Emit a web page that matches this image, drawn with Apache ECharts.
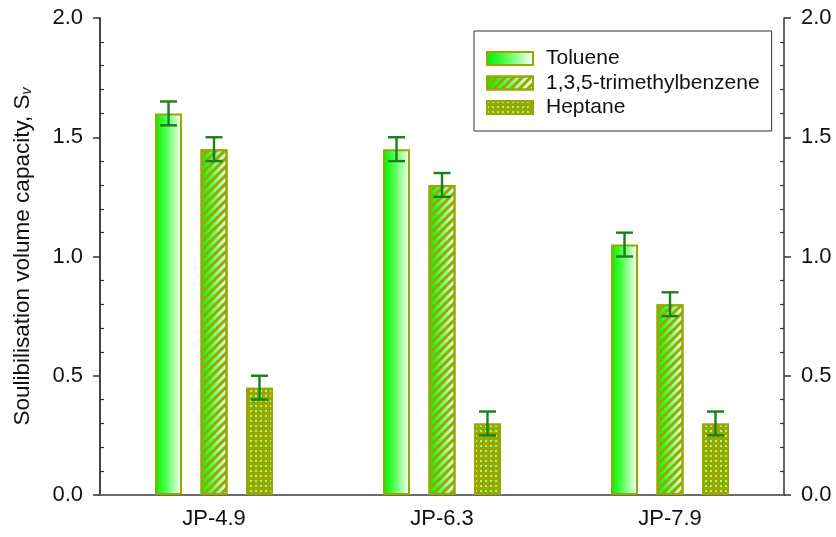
<!DOCTYPE html>
<html>
<head>
<meta charset="utf-8">
<script src="https://cdn.jsdelivr.net/npm/echarts@6/dist/echarts.min.js"></script>
<style>
  html, body { margin: 0; padding: 0; background: #fff; }
  #chart { width: 836px; height: 537px; }
</style>
</head>
<body>
<div id="chart"></div>
<script>
// Solubilisation volume capacity per jet-fuel sample and solvent
const categories = ['JP-4.9', 'JP-6.3', 'JP-7.9'];
const seriesNames = ['Toluene', '1,3,5-trimethylbenzene', 'Heptane'];
const toluene = [1.6, 1.45, 1.05];
const trimethylbenzene = [1.45, 1.3, 0.8];
const heptane = [0.45, 0.3, 0.3];
const tolueneErr = [0.05, 0.05, 0.05];
const trimethylbenzeneErr = [0.05, 0.05, 0.05];
const heptaneErr = [0.05, 0.05, 0.05];
const yMin = 0, yMax = 2.0, yStep = 0.5, yMinorStep = 0.1;

const FONT = '"Liberation Sans", Arial, sans-serif';
const OLIVE = '#99a800';
const ERR = '#16801a';
const BAR_W = 27, BAR_BORDER = 2, BAR_GAP = 0.685;
const PITCH = BAR_W * (1 + BAR_GAP);

// minor tick positions between the labelled ticks
const minorTicks = [];
for (let v = yMin + yMinorStep; v < yMax - 1e-9; v += yMinorStep) {
  const r = Math.round(v * 10) / 10;
  if (Math.abs(r / yStep - Math.round(r / yStep)) > 1e-6) minorTicks.push(r);
}

const greenFade = {
  type: 'linear', x: 0, y: 0, x2: 1, y2: 0,
  colorStops: [
    { offset: 0, color: '#00ee00' },
    { offset: 0.35, color: '#40ff40' },
    { offset: 1, color: '#ffffff' }
  ]
};

function barSeries(name, values, fill, decal) {
  const style = { color: fill, borderColor: OLIVE, borderWidth: BAR_BORDER };
  if (decal) style.decal = decal;
  return {
    name: name, type: 'bar', data: values, barWidth: BAR_W, barGap: (BAR_GAP * 100) + '%',
    itemStyle: style, emphasis: { disabled: true }, animation: false
  };
}

function errorSeries(values, errs, slot) {
  const data = values.map((v, i) => [i, v - errs[i], v + errs[i]]);
  return {
    type: 'custom', z: 5, animation: false, silent: true,
    encode: { x: 0, y: [1, 2] },
    data: data,
    renderItem: function (params, api) {
      const top = api.coord([api.value(0), api.value(2)]);
      const bot = api.coord([api.value(0), api.value(1)]);
      const cx = top[0] + (slot - 1) * PITCH;
      const half = 8.5;
      const st = { stroke: ERR, lineWidth: 2.4 };
      return {
        type: 'group', children: [
          { type: 'line', shape: { x1: cx, y1: top[1], x2: cx, y2: bot[1] }, style: st },
          { type: 'line', shape: { x1: cx - half, y1: top[1], x2: cx + half, y2: top[1] }, style: st },
          { type: 'line', shape: { x1: cx - half, y1: bot[1], x2: cx + half, y2: bot[1] }, style: st }
        ]
      };
    }
  };
}

function valueAxis(pos, labels) {
  return {
    type: 'value', position: pos, min: yMin, max: yMax, interval: yStep,
    splitLine: { show: false },
    axisLine: { show: labels, lineStyle: { color: pos === 'left' ? '#444' : '#333', width: pos === 'left' ? 2 : 1.5 } },
    axisTick: { show: labels, inside: false, length: 7, lineStyle: { color: '#333', width: 1.5 } },
    axisLabel: {
      show: labels, margin: 17, fontFamily: FONT, fontSize: 22, color: '#111',
      formatter: v => v.toFixed(1)
    }
  };
}

function minorAxis(pos) {
  return {
    type: 'value', position: pos, min: yMin, max: yMax, interval: yStep,
    splitLine: { show: false },
    axisLine: { show: false },
    axisLabel: { show: false },
    axisTick: { show: true, inside: true, length: 4, customValues: minorTicks, lineStyle: { color: '#333', width: 1.2 } }
  };
}

const leftAxis = valueAxis('left', true);
leftAxis.name = 'Soulibilisation volume capacity, S{sub|v}';
leftAxis.nameLocation = 'middle';
leftAxis.nameGap = 66;
leftAxis.nameTextStyle = {
  fontFamily: FONT, fontSize: 22.5, color: '#111',
  rich: { sub: { fontFamily: FONT, fontSize: 14, fontStyle: 'italic', color: '#111', verticalAlign: 'bottom', padding: [9, 0, 0, 0] } }
};

const chart = echarts.init(document.getElementById('chart'), null, { renderer: 'canvas' });
chart.setOption({
  backgroundColor: '#ffffff',
  animation: false,
  grid: { left: 100, right: 52, top: 18, bottom: 42, containLabel: false },
  legend: {
    data: seriesNames,
    orient: 'vertical', left: 474, top: 31,
    itemWidth: 46, itemHeight: 13, itemGap: 3.5,
    padding: [17, 12, 13, 12],
    borderColor: '#333', borderWidth: 1,
    icon: 'rect',
    textStyle: { fontFamily: FONT, fontSize: 21, lineHeight: 20, color: '#111', padding: [0, 0, 0, 8] }
  },
  xAxis: [
    {
      type: 'category', data: categories, position: 'bottom',
      axisLine: { lineStyle: { color: '#111', width: 2 } },
      axisTick: { alignWithLabel: true, length: 7, lineStyle: { color: '#333', width: 1.5 } },
      axisLabel: { margin: 13, fontFamily: FONT, fontSize: 22, color: '#111' }
    },
    {
      type: 'category', data: categories, position: 'top',
      axisLine: { lineStyle: { color: '#888', width: 1.5 } },
      axisTick: { show: false }, axisLabel: { show: false }
    }
  ],
  yAxis: [leftAxis, valueAxis('right', true), minorAxis('left'), minorAxis('right')],
  series: [
    barSeries(seriesNames[0], toluene, greenFade, null),
    barSeries(seriesNames[1], trimethylbenzene, greenFade, {
      symbol: 'rect', symbolSize: 1, color: OLIVE,
      dashArrayX: [1, 0], dashArrayY: [2.5, 2.5], rotation: -Math.PI / 4
    }),
    barSeries(seriesNames[2], heptane, OLIVE, {
      symbol: 'rect', symbolSize: 1, color: 'rgba(160,255,140,0.95)',
      dashArrayX: [1.5, 2.5], dashArrayY: [1.5, 2.5], rotation: 0
    }),
    errorSeries(toluene, tolueneErr, 0),
    errorSeries(trimethylbenzene, trimethylbenzeneErr, 1),
    errorSeries(heptane, heptaneErr, 2)
  ]
});
</script>
</body>
</html>
